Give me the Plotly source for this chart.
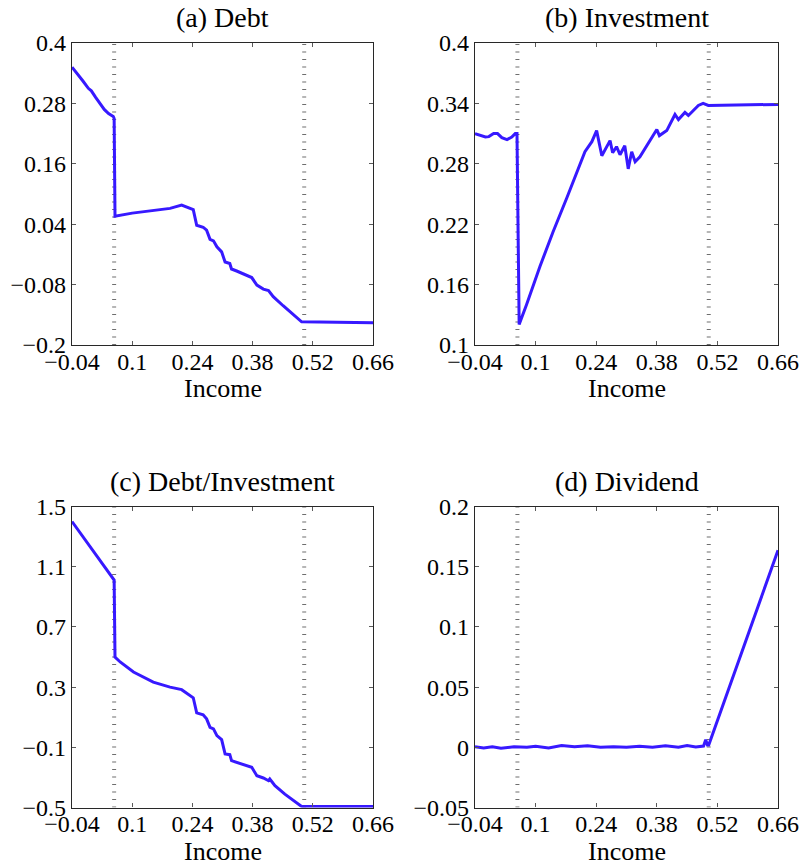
import plotly.graph_objects as go

# ---------------- data ----------------
debt_x = [-0.04, -0.03, -0.015, -0.002, 0.005, 0.015, 0.025, 0.035, 0.045, 0.056, 0.058,
          0.060, 0.10, 0.15, 0.188, 0.215, 0.242, 0.250, 0.265, 0.273, 0.281, 0.289, 0.297,
          0.308, 0.316, 0.327, 0.331, 0.343, 0.378, 0.390, 0.405, 0.417, 0.428, 0.451,
          0.494, 0.66]
debt_y = [0.352, 0.342, 0.325, 0.310, 0.305, 0.292, 0.280, 0.268, 0.260, 0.254, 0.250,
          0.056, 0.062, 0.068, 0.0714, 0.078, 0.069, 0.038, 0.034, 0.028, 0.010, 0.007, -0.005,
          -0.015, -0.035, -0.038, -0.049, -0.053, -0.066, -0.081, -0.089, -0.092, -0.104, -0.122,
          -0.154, -0.156]

inv_x = [-0.04, -0.028, -0.016, -0.008, 0.003, 0.012, 0.022, 0.034, 0.045, 0.053, 0.057,
         0.062, 0.079, 0.110, 0.140, 0.172, 0.214, 0.230, 0.241, 0.253, 0.272, 0.278, 0.287,
         0.295, 0.306, 0.314, 0.322, 0.330, 0.341, 0.380, 0.386, 0.403, 0.410, 0.422, 0.430,
         0.445, 0.453, 0.476, 0.487, 0.499, 0.66]
inv_y = [0.310, 0.308, 0.3066, 0.307, 0.310, 0.310, 0.306, 0.304, 0.3066, 0.310, 0.310,
         0.1205, 0.140, 0.178, 0.212, 0.246, 0.292, 0.302, 0.313, 0.288, 0.303, 0.291, 0.297,
         0.289, 0.298, 0.275, 0.292, 0.282, 0.287, 0.314, 0.308, 0.313, 0.319, 0.329, 0.324,
         0.331, 0.328, 0.338, 0.340, 0.338, 0.339]

ratio_x = [-0.04, 0.0, 0.03, 0.058, 0.060, 0.072, 0.103, 0.149, 0.188, 0.215, 0.242, 0.250,
           0.265, 0.273, 0.281, 0.289, 0.297, 0.308, 0.316, 0.327, 0.331, 0.347, 0.378, 0.390,
           0.405, 0.417, 0.420, 0.432, 0.455, 0.494, 0.66]
ratio_y = [1.40, 1.24, 1.12, 1.011, 0.50, 0.467, 0.40, 0.333, 0.30, 0.283, 0.229, 0.129,
           0.116, 0.089, 0.033, 0.023, -0.022, -0.049, -0.144, -0.149, -0.189, -0.204, -0.233, -0.289,
           -0.304, -0.322, -0.311, -0.355, -0.411, -0.493, -0.493]

div_x = [-0.04, -0.02, 0.0, 0.02, 0.05, 0.08, 0.10, 0.13, 0.16, 0.19, 0.22, 0.25, 0.28,
         0.31, 0.34, 0.37, 0.40, 0.43, 0.45, 0.47, 0.488, 0.493, 0.497, 0.50, 0.66]
div_y = [0.0005, -0.0005, 0.0005, -0.0008, 0.0005, 0.0, 0.0008, -0.0005, 0.0015, 0.0005, 0.0012,
         0.0, 0.0005, 0.0, 0.0008, 0.0, 0.0012, 0.0, 0.0015, 0.0003, 0.001, 0.0063, 0.002, 0.002, 0.1636]

cutoffs = [0.058, 0.50]

x_ticks = [-0.04, 0.1, 0.24, 0.38, 0.52, 0.66]
x_ticktext = ["\u22120.04", "0.1", "0.24", "0.38", "0.52", "0.66"]
x_label = "Income"

panels = [
    dict(title="(a) Debt", x=debt_x, y=debt_y, yr=[-0.2, 0.4],
         yt=[-0.2, -0.08, 0.04, 0.16, 0.28, 0.4],
         ytt=["\u22120.2", "\u22120.08", "0.04", "0.16", "0.28", "0.4"]),
    dict(title="(b) Investment", x=inv_x, y=inv_y, yr=[0.1, 0.4],
         yt=[0.1, 0.16, 0.22, 0.28, 0.34, 0.4],
         ytt=["0.1", "0.16", "0.22", "0.28", "0.34", "0.4"]),
    dict(title="(c) Debt/Investment", x=ratio_x, y=ratio_y, yr=[-0.5, 1.5],
         yt=[-0.5, -0.1, 0.3, 0.7, 1.1, 1.5],
         ytt=["\u22120.5", "\u22120.1", "0.3", "0.7", "1.1", "1.5"]),
    dict(title="(d) Dividend", x=div_x, y=div_y, yr=[-0.05, 0.2],
         yt=[-0.05, 0, 0.05, 0.1, 0.15, 0.2],
         ytt=["\u22120.05", "0", "0.05", "0.1", "0.15", "0.2"]),
]

W, H = 801, 867
boxes = [(72, 373, 43, 345), (475, 778, 43, 345), (72, 373, 506.5, 807.5), (475, 778, 506.5, 807.5)]
title_y = [18, 18, 481, 481]
xlabel_y = [388, 388, 851, 851]

FONT = "Liberation Serif"
LINE = "rgb(55,25,255)"

fig = go.Figure()
layout = dict(width=W, height=H, margin=dict(l=0, r=0, t=0, b=0, autoexpand=False),
              paper_bgcolor="white", plot_bgcolor="white", showlegend=False,
              font=dict(family=FONT, size=24, color="black"))
annotations = []

for i, p in enumerate(panels):
    n = "" if i == 0 else str(i + 1)
    xa, ya = "x" + n, "y" + n
    l, r, t, b = boxes[i]
    for c in cutoffs:
        fig.add_trace(go.Scatter(x=[c, c], y=p["yr"], mode="lines", xaxis=xa, yaxis=ya,
                                 line=dict(color="rgb(110,110,110)", width=4, dash="1px,6.5px"),
                                 hoverinfo="skip"))
    fig.add_trace(go.Scatter(x=p["x"], y=p["y"], mode="lines", xaxis=xa, yaxis=ya,
                             line=dict(color=LINE, width=3)))
    axcommon = dict(showgrid=False, zeroline=False, showline=True, linecolor="rgb(40,40,40)",
                    linewidth=1.3, mirror="ticks", ticks="inside", ticklen=4, tickwidth=1,
                    tickcolor="rgb(90,90,90)", automargin=False,
                    tickfont=dict(family=FONT, size=24, color="black"))
    layout["xaxis" + n] = dict(axcommon, domain=[l / W, r / W], range=[-0.04, 0.66],
                               anchor=ya, tickvals=x_ticks, ticktext=x_ticktext,
                               ticklabelstandoff=-5)
    layout["yaxis" + n] = dict(axcommon, domain=[1 - b / H, 1 - t / H], range=p["yr"],
                               anchor=xa, tickvals=p["yt"], ticktext=p["ytt"])
    annotations.append(dict(text=p["title"], x=(l + r) / 2 / W, y=1 - title_y[i] / H,
                            xref="paper", yref="paper", showarrow=False,
                            xanchor="center", yanchor="middle",
                            font=dict(family=FONT, size=28, color="black")))
    annotations.append(dict(text=x_label, x=(l + r) / 2 / W, y=1 - xlabel_y[i] / H,
                            xref="paper", yref="paper", showarrow=False,
                            xanchor="center", yanchor="middle",
                            font=dict(family=FONT, size=26, color="black")))

layout["annotations"] = annotations
fig.update_layout(**layout)
fig.write_html("out.html", post_script="document.body.style.margin='0';",
               config={"displayModeBar": False})
